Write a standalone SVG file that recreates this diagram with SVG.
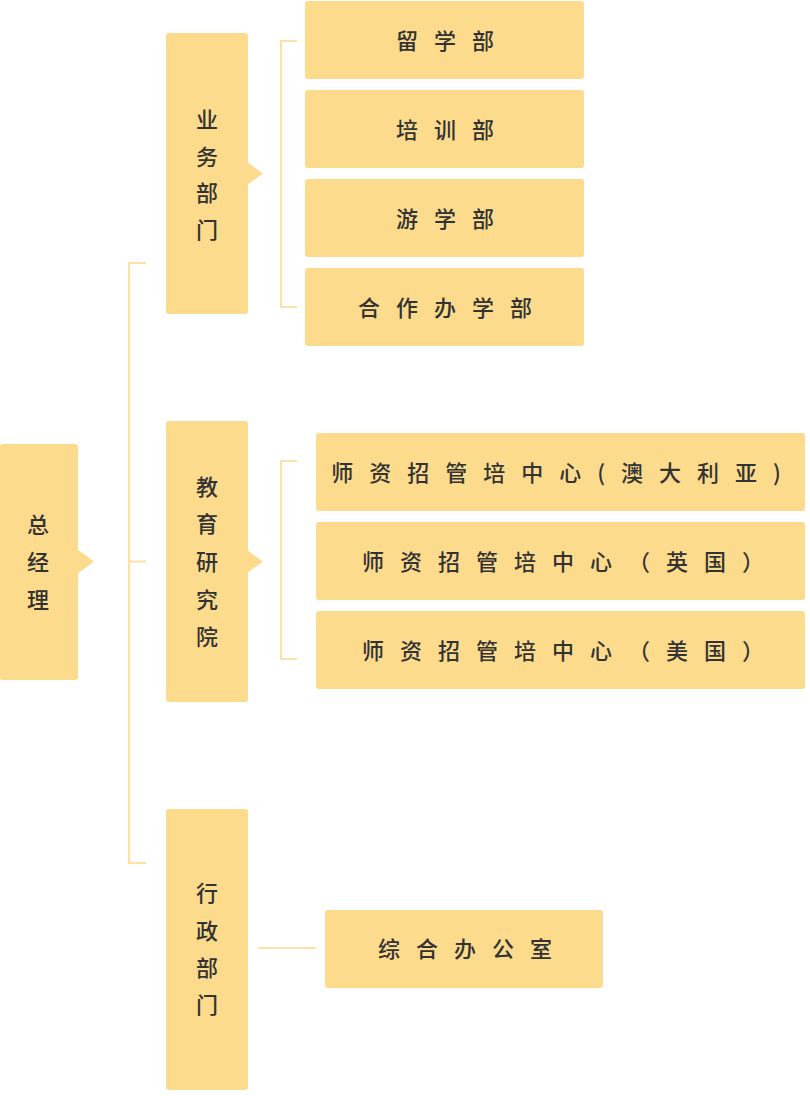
<svg xmlns="http://www.w3.org/2000/svg" width="810" height="1096" viewBox="0 0 810 1096">
<style>
.box{fill:#FCDB8D;}
.ln{fill:none;stroke:#FCE2A6;stroke-width:2;}
.t{font-family:"Noto Sans CJK SC","Noto Sans",sans-serif;font-size:22px;font-weight:500;fill:#333333;}
.h{text-anchor:middle;letter-spacing:16px;}
.v{text-anchor:middle;}
</style>
<rect width="810" height="1096" fill="#ffffff"/>
<g id="connectors">
<path class="ln" d="M146,263 H129 V863 H146 M129,561.5 H146"/>
<path class="ln" d="M297,41 H281 V307 H297"/>
<path class="ln" d="M297,461 H281 V659 H297"/>
<path class="ln" d="M258,948 H316"/>
</g>
<g id="n-zongjingli">
<rect class="box" x="0" y="444" width="78" height="236" rx="3"/>
<polygon class="box" points="77,549 94,561.5 77,574"/>
<text class="t v"><tspan x="38" y="533">总</tspan><tspan x="38" y="570">经</tspan><tspan x="38" y="608">理</tspan></text>
</g>
<g id="n-yewu">
<rect class="box" x="166" y="33" width="82" height="281" rx="3"/>
<polygon class="box" points="247,162 263,173.5 247,185"/>
<text class="t v"><tspan x="207" y="128">业</tspan><tspan x="207" y="165">务</tspan><tspan x="207" y="201">部</tspan><tspan x="207" y="238">门</tspan></text>
</g>
<g id="n-jiaoyu">
<rect class="box" x="166" y="421" width="82" height="281" rx="3"/>
<polygon class="box" points="247,550 263,561.5 247,573"/>
<text class="t v"><tspan x="207" y="495">教</tspan><tspan x="207" y="532">育</tspan><tspan x="207" y="570">研</tspan><tspan x="207" y="608">究</tspan><tspan x="207" y="645">院</tspan></text>
</g>
<g id="n-xingzheng">
<rect class="box" x="166" y="809" width="82" height="281" rx="3"/>
<text class="t v"><tspan x="207" y="901">行</tspan><tspan x="207" y="939">政</tspan><tspan x="207" y="976">部</tspan><tspan x="207" y="1013">门</tspan></text>
</g>
<g id="n-liuxue">
<rect class="box" x="305" y="1" width="279" height="78" rx="3"/>
<text class="t h" x="453" y="49">留学部</text>
</g>
<g id="n-peixun">
<rect class="box" x="305" y="90" width="279" height="78" rx="3"/>
<text class="t h" x="453" y="138">培训部</text>
</g>
<g id="n-youxue">
<rect class="box" x="305" y="179" width="279" height="78" rx="3"/>
<text class="t h" x="453" y="227">游学部</text>
</g>
<g id="n-hezuo">
<rect class="box" x="305" y="268" width="279" height="78" rx="3"/>
<text class="t h" x="453" y="316">合作办学部</text>
</g>
<g id="n-aus">
<rect class="box" x="316" y="433" width="489" height="78" rx="3"/>
<text class="t h" x="564" y="481">师资招管培中心(澳大利亚)</text>
</g>
<g id="n-uk">
<rect class="box" x="316" y="522" width="489" height="78" rx="3"/>
<text class="t h" x="571" y="570">师资招管培中心（英国）</text>
</g>
<g id="n-us">
<rect class="box" x="316" y="611" width="489" height="78" rx="3"/>
<text class="t h" x="571" y="659">师资招管培中心（美国）</text>
</g>
<g id="n-zonghe">
<rect class="box" x="325" y="910" width="278" height="78" rx="3"/>
<text class="t h" x="473" y="957">综合办公室</text>
</g>
</svg>
